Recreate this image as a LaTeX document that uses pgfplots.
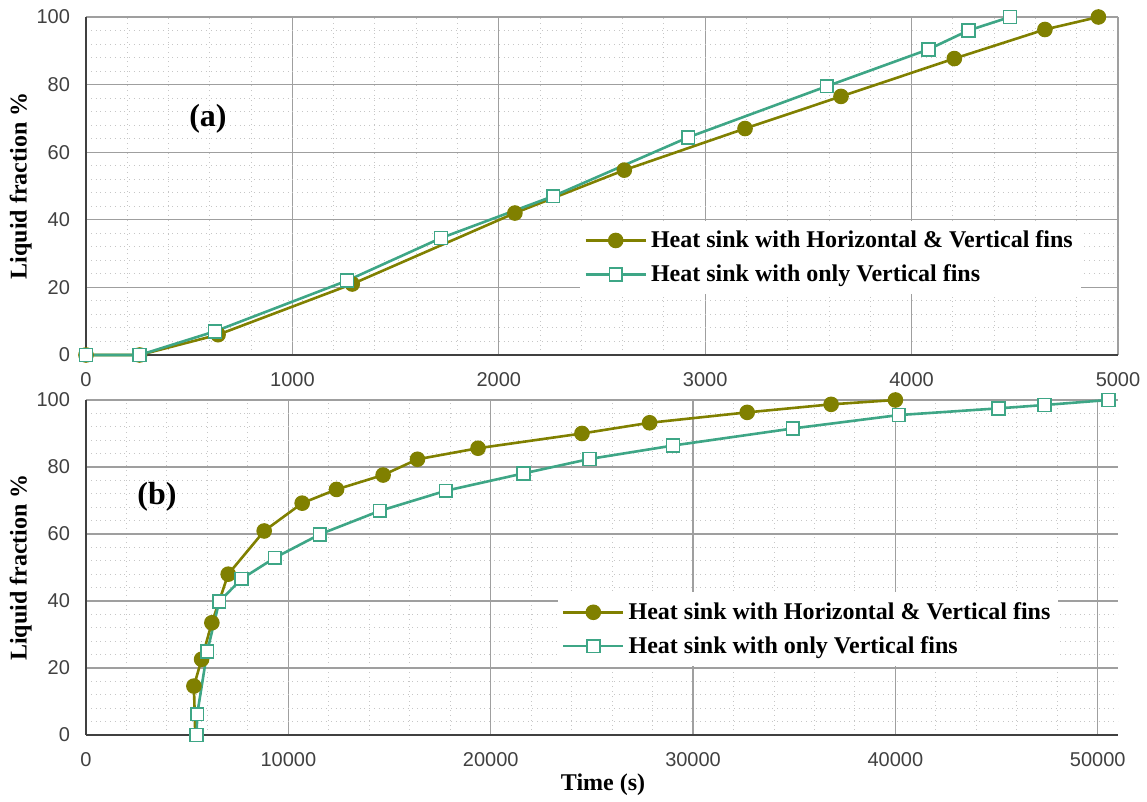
\documentclass[border=0pt]{standalone}
\usepackage{fontspec}
\setmainfont{Liberation Serif}
\newfontfamily\tickfont{Liberation Sans}
\usepackage{pgfplots}
\pgfplotsset{compat=1.18}

\definecolor{hvolive}{RGB}{128,128,0}
\definecolor{vteal}{RGB}{62,166,134}

\pgfplotsset{
  meltaxis/.style={
    scale only axis,
    width=516pt,
    clip=false,
    axis x line*=bottom,
    axis y line*=left,
    axis line style={black!75, line width=0.9pt},
    major tick length=0pt,
    minor tick length=0pt,
    grid=both,
    minor tick num=4,
    major grid style={gray!75, line width=0.6pt},
    minor grid style={gray!45, dotted, line width=0.5pt},
    ymin=0, ymax=100,
    ytick={0,20,40,60,80,100},
    scaled x ticks=false,
    /pgf/number format/assume math mode=true,
    /pgf/number format/1000 sep={},
    ticklabel style={font=\tickfont\fontsize{10}{12}\selectfont, text=black!75},
    xticklabel style={yshift=-5pt},
    yticklabel style={xshift=-4.5pt},
    label style={font=\fontsize{12}{14}\selectfont\bfseries},
    ylabel={Liquid fraction \%},
    ylabel style={at={(axis description cs:-0.0632,0.5)}, anchor=center},
    legend cell align=left,
    legend image code/.code={
      \draw[mark repeat=2, mark phase=2, #1]
        plot coordinates {(0pt,0pt) (15pt,0pt) (30pt,0pt)};
    },
    legend style={
      font=\fontsize{12}{14}\selectfont\bfseries,
      draw=none, fill=white,
      anchor=north west,
      row sep=3pt,
      inner xsep=2pt, inner ysep=3pt,
      /tikz/every even column/.append style={column sep=0pt},
    },
  },
  hvstyle/.style={color=hvolive, line width=1.3pt, mark=*, mark size=3.6pt,
    mark options={fill=hvolive, draw=hvolive, line width=0.6pt}},
  vstyle/.style={color=vteal, line width=1.3pt, mark=square*, mark size=3.2pt,
    mark options={fill=white, draw=vteal, line width=0.8pt}},
}

\begin{document}
\begin{tikzpicture}
\useasboundingbox (0,0) rectangle (573.5pt,401pt);

% (a) heat sink melting, short time scale
\begin{axis}[meltaxis,
  at={(43pt,223.5pt)}, anchor=south west,
  height=169pt,
  xmin=0, xmax=5000,
  xtick={0,1000,2000,3000,4000,5000},
  legend style={at={(0.4787,0.399)}},
]
\addplot[hvstyle] coordinates {
  (0,0) (260,0) (640,6) (1290,21) (2078,42) (2608,54.7) (3193,67)
  (3658,76.5) (4207,87.7) (4646,96.3) (4905,100)
};
\addlegendentry{Heat sink with Horizontal \& Vertical fins}
\addplot[vstyle] coordinates {
  (0,0) (260,0) (625,7) (1265,22) (1720,34.6) (2264,47) (2918,64.4)
  (3589,79.5) (4081,90.4) (4275,96) (4477,100)
};
\addlegendentry{Heat sink with only Vertical fins}
\node[font=\fontsize{16}{18}\selectfont\bfseries] at (axis cs:591,70) {(a)};
\end{axis}

% (b) heat sink melting, long time scale
\begin{axis}[meltaxis,
  at={(43pt,33.5pt)}, anchor=south west,
  height=167.5pt,
  xmin=0, xmax=51000,
  xtick={0,10000,20000,30000,40000,50000},
  xlabel={Time (s)},
  xlabel style={at={(axis description cs:0.501,-0.149)}, anchor=center},
  legend style={at={(0.457,0.427)}},
]
\addplot[hvstyle, mark phase=2] coordinates {
  (5400,0) (5333,14.6) (5713,22.6) (6220,33.5) (7028,48) (8806,60.9)
  (10683,69.2) (12380,73.3) (14683,77.6) (16380,82.3) (19373,85.6)
  (24509,90) (27852,93.2) (32675,96.3) (36823,98.7) (40000,100)
};
\addlegendentry{Heat sink with Horizontal \& Vertical fins}
\addplot[vstyle] coordinates {
  (5467,0) (5496,6.2) (5990,24.9) (6583,39.8) (7688,46.6) (9333,52.9)
  (11556,59.9) (14518,66.9) (17778,72.9) (21630,78.1) (24889,82.4)
  (29004,86.4) (34930,91.5) (40164,95.5) (45086,97.5) (47358,98.5)
  (50533,100)
};
\addlegendentry{Heat sink with only Vertical fins}
\node[font=\fontsize{16}{18}\selectfont\bfseries] at (axis cs:3506,71) {(b)};
\end{axis}
\end{tikzpicture}
\end{document}
